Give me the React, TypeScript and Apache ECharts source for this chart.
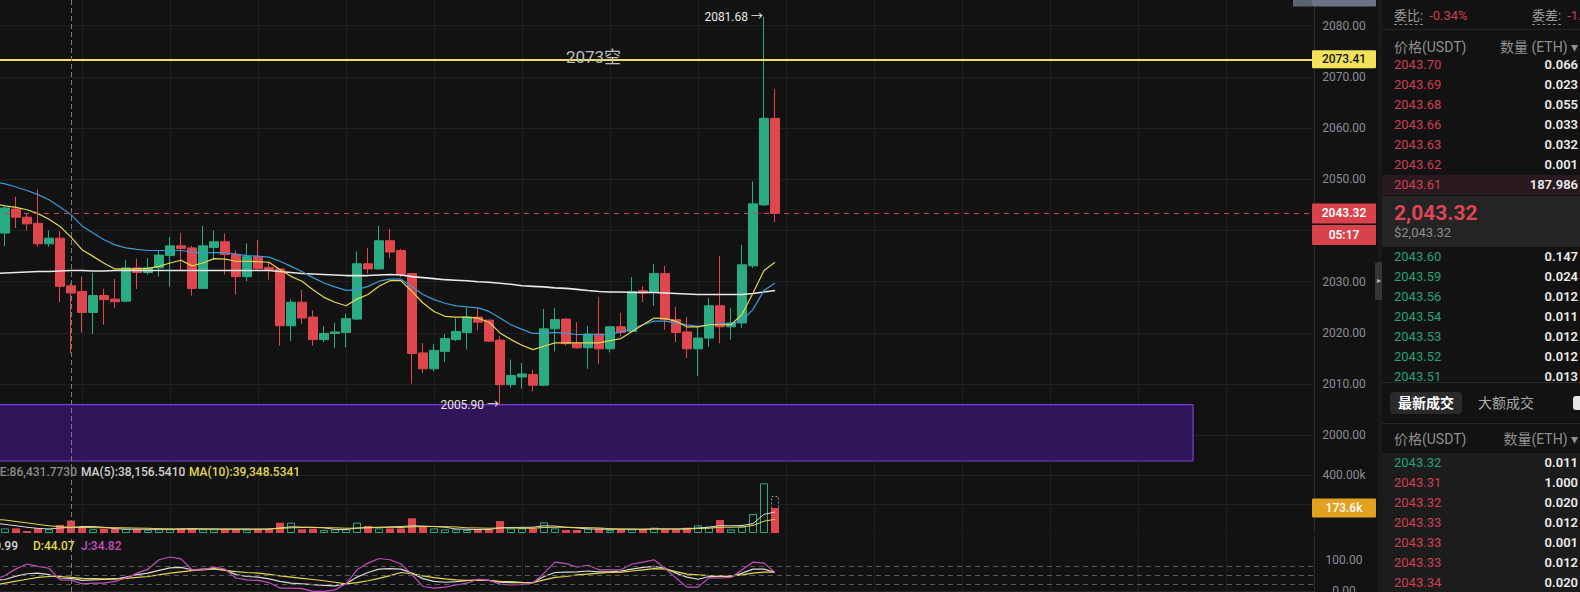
import React, { useEffect, useRef } from "react";
import * as echarts from "echarts";

// ---------------- data ----------------
const SLOT_COUNT = 121; // slot 0 sits just left of the visible area
const slots: string[] = Array.from({ length: SLOT_COUNT }, (_, i) => String(i));

const opens = [
  2039.5, 2044.2, 2042.6, 2041.4, 2037.4, 2038.5, 2029.2, 2028.1, 2024.0, 2027.3,
  2026.6, 2026.2, 2032.7, 2031.8, 2032.7, 2035.1, 2037.0, 2036.6, 2028.7, 2036.7,
  2037.8, 2035.3, 2031.0, 2034.9, 2032.8, 2032.5, 2021.4, 2026.0, 2023.1, 2018.7,
  2019.9, 2020.1, 2022.7, 2033.5, 2032.5, 2038.0, 2036.1, 2031.6, 2016.1, 2013.0,
  2016.4, 2018.7, 2020.1, 2023.1, 2022.5, 2018.6, 2009.9, 2011.4, 2011.9, 2009.8,
  2020.8, 2022.7, 2017.9, 2017.1, 2019.8, 2016.9, 2021.2, 2020.3, 2028.25, 2027.9,
  2031.6, 2022.6, 2020.2, 2016.9, 2019.0, 2025.3, 2021.2, 2021.95, 2033.1, 2045.0,
  2061.9,
];
const closes = [
  2044.4, 2042.6, 2041.3, 2037.4, 2038.5, 2029.1, 2027.8, 2024.0, 2027.3, 2026.5,
  2026.1, 2032.7, 2031.8, 2032.7, 2035.2, 2037.0, 2036.5, 2028.7, 2037.0, 2037.8,
  2035.3, 2031.0, 2034.9, 2032.6, 2032.35, 2021.4, 2026.0, 2022.9, 2018.7, 2019.9,
  2020.2, 2022.8, 2033.5, 2032.5, 2038.0, 2035.8, 2031.4, 2016.0, 2013.0, 2016.6,
  2018.9, 2020.3, 2023.1, 2022.1, 2018.4, 2009.9, 2011.7, 2012.0, 2009.8, 2020.8,
  2022.6, 2017.9, 2017.1, 2019.8, 2016.9, 2021.2, 2020.1, 2028.1, 2027.8, 2031.6,
  2022.6, 2020.1, 2016.9, 2019.0, 2025.3, 2021.2, 2021.95, 2033.3, 2045.2, 2061.9,
  2043.32,
];
const lows = [
  2036.9, 2040.5, 2040.0, 2036.8, 2036.8, 2026.0, 2016.1, 2020.1, 2019.7, 2021.6,
  2024.8, 2026.0, 2028.6, 2031.4, 2031.0, 2029.0, 2032.3, 2027.3, 2028.7, 2034.3,
  2031.4, 2027.5, 2030.1, 2032.3, 2030.4, 2017.5, 2018.4, 2021.8, 2017.5, 2018.2,
  2017.1, 2017.2, 2022.5, 2031.6, 2032.35, 2034.6, 2030.9, 2010.1, 2012.2, 2012.5,
  2014.3, 2018.4, 2016.75, 2020.5, 2018.2, 2005.9, 2009.3, 2009.1, 2008.6, 2009.6,
  2016.4, 2017.5, 2016.9, 2013.0, 2014.0, 2016.2, 2019.3, 2020.3, 2026.0, 2025.3,
  2020.6, 2018.2, 2015.1, 2011.6, 2017.3, 2018.0, 2018.7, 2021.0, 2032.7, 2044.8,
  2041.6,
];
const highs = [
  2044.7, 2046.6, 2043.4, 2048.0, 2040.0, 2039.9, 2029.7, 2031.0, 2031.7, 2028.6,
  2030.5, 2034.3, 2034.5, 2034.6, 2036.2, 2038.7, 2039.5, 2037.0, 2040.9, 2040.0,
  2039.4, 2036.1, 2037.5, 2038.2, 2034.0, 2032.5, 2026.5, 2028.45, 2024.4, 2021.3,
  2022.0, 2023.8, 2035.9, 2036.6, 2040.9, 2040.3, 2036.4, 2031.6, 2018.0, 2017.9,
  2019.8, 2022.9, 2024.9, 2024.9, 2022.6, 2019.35, 2014.8, 2014.15, 2012.85, 2024.7,
  2024.9, 2022.9, 2022.1, 2021.4, 2027.0, 2021.4, 2023.9, 2030.9, 2029.1, 2033.5,
  2033.1, 2025.1, 2023.1, 2021.4, 2026.8, 2035.0, 2024.9, 2037.2, 2049.6, 2081.68,
  2067.6,
];
const volumes = [
  32000, 32000, 14000, 32000, 26000, 56000, 86432, 37000, 26000, 30000,
  30000, 28000, 26000, 23000, 26000, 26000, 32000, 32000, 26000, 26000,
  28000, 28000, 23000, 28000, 28000, 72000, 72000, 26000, 30000, 21000,
  26000, 26000, 72000, 49000, 32000, 32000, 32000, 102000, 44000, 32000,
  25000, 25000, 21000, 25000, 25000, 83000, 32000, 32000, 32000, 74000,
  32000, 21000, 21000, 32000, 32000, 21000, 25000, 25000, 25000, 37000,
  25000, 25000, 37000, 53000, 44000, 90000, 25000, 44000, 132000, 345000,
  173600,
];
// moving averages / indicators, slot 0..71
const ma7 = [
  2045.2, 2044.8, 2044.5, 2044.05, 2043.3, 2042.2, 2040.8, 2038.7, 2036.25, 2034.95, 2033.6,
  2032.5, 2032.5, 2032.5, 2032.6, 2033.0, 2033.65, 2034.2, 2033.1, 2033.65, 2034.5,
  2034.4, 2034.0, 2034.0, 2033.9, 2033.8, 2032.35, 2031.05, 2030.1, 2028.45, 2026.95,
  2026.0, 2025.3, 2026.6, 2027.5, 2029.1, 2030.2, 2030.2, 2028.1, 2025.85, 2024.2,
  2023.25, 2023.1, 2023.1, 2022.9, 2022.1, 2020.0, 2018.7, 2017.6, 2016.75, 2017.4,
  2018.05, 2018.05, 2018.05, 2018.05, 2018.05, 2018.5, 2018.9, 2020.3, 2021.6, 2022.9,
  2022.8, 2022.3, 2021.2, 2021.2, 2021.6, 2021.6, 2021.6, 2023.6, 2027.8, 2032.2, 2033.8,
];
const ma25 = [
  2049.5, 2049.1, 2048.5, 2047.8, 2047.0, 2046.0, 2044.6, 2043.1, 2040.9, 2039.5, 2038.2,
  2037.2, 2036.6, 2036.3, 2036.1, 2036.1, 2036.1, 2036.1, 2035.8, 2035.6, 2035.7,
  2035.7, 2035.4, 2035.1, 2035.0, 2034.8, 2034.0, 2033.0, 2032.0, 2030.8, 2029.75,
  2029.0, 2028.3, 2028.45, 2029.1, 2030.1, 2030.5, 2030.5, 2029.0, 2027.5, 2026.5,
  2025.8, 2025.3, 2025.1, 2024.9, 2024.2, 2022.9, 2021.6, 2020.7, 2019.9, 2019.9,
  2020.1, 2019.9, 2019.7, 2019.7, 2019.7, 2019.7, 2020.2, 2020.8, 2021.6, 2022.3,
  2022.3, 2021.95, 2021.6, 2021.3, 2021.5, 2021.8, 2021.8, 2022.3, 2024.6, 2028.3, 2029.75,
];
const ma99 = [
  2031.6, 2031.7, 2031.8, 2031.9, 2032.0, 2032.0, 2032.1, 2032.2, 2032.2, 2032.1, 2032.1,
  2032.2, 2032.2, 2032.2, 2032.2, 2032.2, 2032.2, 2032.2, 2032.2, 2032.2, 2032.2,
  2032.2, 2032.2, 2032.2, 2032.2, 2032.2, 2032.0, 2031.8, 2031.6, 2031.5, 2031.4,
  2031.3, 2031.2, 2031.2, 2031.2, 2031.3, 2031.4, 2031.3, 2031.0, 2030.8, 2030.6,
  2030.4, 2030.3, 2030.2, 2030.0, 2029.9, 2029.7, 2029.5, 2029.2, 2029.1, 2029.0,
  2028.8, 2028.7, 2028.5, 2028.3, 2028.1, 2028.0, 2028.0, 2027.9, 2027.9, 2027.9,
  2027.8, 2027.7, 2027.6, 2027.5, 2027.5, 2027.5, 2027.5, 2027.5, 2027.7, 2028.0, 2028.3,
];
const volMa5 = [
  70000, 60000, 50000, 40000, 32000, 28000, 35000, 38157, 45000, 45000, 40000,
  30000, 27000, 26000, 26000, 26000, 26000, 28000, 30000, 29000, 28000,
  27000, 27000, 27000, 26000, 27000, 35000, 43000, 41000, 40000, 36000,
  25000, 24000, 34000, 39000, 40000, 42000, 45000, 50000, 48000, 45000,
  40000, 28000, 26000, 24000, 24000, 36000, 38000, 39000, 40000, 50000,
  48000, 40000, 35000, 28000, 27000, 26000, 26000, 27000, 25000, 28000,
  28000, 27000, 30000, 35000, 40000, 52000, 50000, 52000, 65000, 130000, 145000,
];
const volMa10 = [
  95000, 90000, 80000, 70000, 60000, 50000, 44000, 39349, 38000, 37000, 37000,
  37000, 36000, 34000, 33000, 30000, 28000, 27000, 27000, 27000, 27000,
  27000, 27000, 27000, 27000, 28000, 32000, 36000, 38000, 38000, 37000,
  36000, 33000, 34000, 36000, 38000, 40000, 38000, 43000, 45000, 45000,
  44000, 42000, 36000, 35000, 33000, 35000, 35000, 33000, 33000, 38000,
  40000, 40000, 38000, 37000, 35000, 30000, 28000, 27000, 27000, 28000,
  28000, 28000, 28000, 31000, 33000, 40000, 40000, 42000, 52000, 82000, 95000,
];
const kLine = [
  34, 37, 48, 56, 58, 53, 42, 40.99, 34, 36, 37,
  38, 45, 53, 58, 67, 75, 77, 69, 71, 73,
  69, 53, 47, 45, 39, 31, 25, 23, 20, 18,
  16, 23, 45, 60, 71, 73, 71, 58, 40, 31,
  28, 30, 33, 36, 34, 28, 27, 27, 27, 47,
  60, 61, 62, 65, 62, 62, 65, 71, 77, 80,
  74, 58, 45, 38, 47, 47, 47, 58, 71, 71, 61,
];
const dLine = [
  18, 25, 32, 38, 44, 47, 47, 44.07, 41, 40, 39,
  40, 41, 44, 47, 52, 58, 62, 66, 69, 72,
  67, 63, 60, 58, 54, 49, 45, 41, 37, 33,
  28, 23, 27, 33, 41, 50, 60, 56, 49, 43,
  39, 36, 34, 34, 34, 31, 30, 28, 27, 36,
  44, 47, 52, 55, 58, 60, 61, 65, 69, 73,
  71, 63, 55, 52, 50, 49, 49, 52, 58, 61, 61,
];
const jLine = [
  35, 50, 72, 88, 80, 74, 36, 34.82, 23, 25, 25,
  31, 42, 58, 71, 102, 111, 105, 69, 69, 78,
  71, 42, 36, 34, 27, 9, 9, 7, -2, -2,
  3, 23, 69, 91, 106, 102, 88, 53, 14, 9,
  12, 19, 25, 38, 34, 22, 19, 21, 25, 58,
  94, 89, 78, 84, 69, 69, 69, 88, 94, 102,
  74, 42, 12, 12, 43, 42, 44, 69, 94, 91, 61,
];

// grid lines at every tick; labels only where the reference shows them (others are hidden behind tags)
const priceTicks = [2000, 2010, 2020, 2030, 2040, 2050, 2060, 2070, 2080];
const priceLabels = [2000, 2010, 2020, 2030, 2050, 2060, 2070, 2080];
const volumeTicks = [200000, 400000];
const volumeLabels = [400000];
const kdjTicks = [0, 100];
const kdjLevels = [20, 50, 80];

const PRICE_MIN = 1995;
const PRICE_MAX = 2085;
const VOLUME_MAX = 500000;
const KDJ_MIN = -4;
const KDJ_MAX = 180;

const RESISTANCE = 2073.41;
const RESISTANCE_NOTE = "2073空";
const ZONE_TOP = 2006.0;
const ZONE_BOTTOM = 1995;
const ZONE_END_SLOT = 109;
const LAST_PRICE = 2043.32;
const COUNTDOWN = "05:17";
const LAST_VOLUME = 173600;
const PROJECTED_VOLUME = 257000;
const CROSS_SLOT = 7;
const HIGH_SLOT = 70;
const LOW_SLOT = 46;
const VOL_TEXT = "VOLUME:86,431.7730";
const VOL_MA5_TEXT = "MA(5):38,156.5410";
const VOL_MA10_TEXT = "MA(10):39,348.5341";
const K_TEXT = "K:40.99";
const D_TEXT = "D:44.07";
const J_TEXT = "J:34.82";

const asks = [
  ["2043.70", "0.066"], ["2043.69", "0.023"], ["2043.68", "0.055"], ["2043.66", "0.033"],
  ["2043.63", "0.032"], ["2043.62", "0.001"], ["2043.61", "187.986"],
];
const bids = [
  ["2043.60", "0.147"], ["2043.59", "0.024"], ["2043.56", "0.012"], ["2043.54", "0.011"],
  ["2043.53", "0.012"], ["2043.52", "0.012"], ["2043.51", "0.013"],
];
const trades = [
  ["2043.32", "0.011", "buy"], ["2043.31", "1.000", "sell"], ["2043.32", "0.020", "sell"],
  ["2043.33", "0.012", "sell"], ["2043.33", "0.001", "sell"], ["2043.33", "0.012", "sell"],
  ["2043.34", "0.020", "sell"],
];

// ---------------- styles ----------------
const FONT = "Roboto, 'Noto Sans CJK SC', sans-serif";
const BG = "#121212";
const GRID_COLOR = "#1f1f1f";
const UP = "#2aab83";
const DOWN = "#e0464e";
const YELLOW = "#e3d84f";
const BLUE = "#3a9bd5";
const WHITE = "#e8e8e8";
const PINK = "#c64dbd";
const AXIS_TEXT = "#8a8e96";
const BOOK_RED = "#cf3d55";
const BOOK_GREEN = "#23a372";

function buildOption(): any {
  const candleData: any[] = [["-", "-", "-", "-"]].concat(
    opens.map((o, i) => [o, closes[i], lows[i], highs[i]]) as any
  );
  const volData: any[] = ["-"].concat(
    volumes.map((v, i) =>
      closes[i] >= opens[i]
        ? { value: v, itemStyle: { color: "rgba(0,0,0,0)", borderColor: UP, borderWidth: 1 } }
        : { value: v, itemStyle: { color: DOWN } }
    ) as any
  );
  const projData: any[] = volData.map((_, i) => (i === volData.length - 1 ? PROJECTED_VOLUME : "-"));

  const xAxis = (gi: number, extra: any = {}) => ({
    type: "category",
    gridIndex: gi,
    data: slots,
    boundaryGap: false,
    axisLine: { show: false },
    axisTick: { show: false },
    axisLabel: { show: false },
    splitLine: { show: true, interval: 7, lineStyle: { color: GRID_COLOR, width: 1 } },
    ...extra,
  });
  const axisLabel = (values: number[], fmt: (v: number) => string) => ({
    customValues: values,
    formatter: fmt,
    color: AXIS_TEXT,
    fontSize: 12,
    fontFamily: FONT,
    margin: 30,
    align: "center",
  });
  const crossLine = { xAxis: CROSS_SLOT, lineStyle: { color: "#7a7a7a", type: [5, 3], width: 1 } };
  const line = (name: string, data: number[], color: string, xi: number, width = 1.2, extra: any = {}) => ({
    name,
    type: "line",
    xAxisIndex: xi,
    yAxisIndex: xi,
    data,
    showSymbol: false,
    symbol: "none",
    silent: true,
    lineStyle: { color, width },
    z: 3,
    ...extra,
  });
  const gridBase = { outerBoundsMode: "none", containLabel: false, left: -6, width: 1320 };

  return {
    animation: false,
    backgroundColor: BG,
    grid: [
      { ...gridBase, top: 0, height: 461 },
      { ...gridBase, top: 461, height: 72 },
      { ...gridBase, top: 536, height: 56 },
    ],
    xAxis: [
      xAxis(0),
      xAxis(1),
      xAxis(2, { position: "top", axisLine: { show: true, lineStyle: { color: "#242424" } } }),
    ],
    yAxis: [
      {
        type: "value", gridIndex: 0, position: "right", min: PRICE_MIN, max: PRICE_MAX,
        axisLine: { show: true, lineStyle: { color: "#2a2a2a" } },
        axisTick: { show: false, customValues: priceTicks },
        axisLabel: axisLabel(priceLabels, (v) => v.toFixed(2)),
        splitLine: { show: true, lineStyle: { color: GRID_COLOR } },
      },
      {
        type: "value", gridIndex: 1, position: "right", min: 0, max: VOLUME_MAX,
        axisLine: { show: true, lineStyle: { color: "#2a2a2a" } },
        axisTick: { show: false, customValues: volumeTicks },
        axisLabel: axisLabel(volumeLabels, (v) => (v / 1000).toFixed(2) + "k"),
        splitLine: { show: true, lineStyle: { color: GRID_COLOR } },
      },
      {
        type: "value", gridIndex: 2, position: "right", min: KDJ_MIN, max: KDJ_MAX,
        axisLine: { show: true, lineStyle: { color: "#2a2a2a" } },
        axisTick: { show: false, customValues: kdjTicks },
        axisLabel: axisLabel(kdjTicks, (v) => v.toFixed(2)),
        splitLine: { show: false },
      },
    ],
    series: [
      {
        name: "kline",
        type: "candlestick",
        xAxisIndex: 0,
        yAxisIndex: 0,
        data: candleData,
        barWidth: 9,
        silent: true,
        itemStyle: { color: UP, color0: DOWN, borderColor: UP, borderColor0: DOWN, borderWidth: 1 },
        markArea: {
          silent: true,
          itemStyle: { color: "#2f165a", borderColor: "#7b3dd2", borderWidth: 1.2 },
          data: [[{ xAxis: 0, yAxis: ZONE_TOP }, { xAxis: ZONE_END_SLOT, yAxis: ZONE_BOTTOM }]],
        },
        markLine: {
          silent: true,
          symbol: ["none", "none"],
          label: { show: false },
          data: [
            { yAxis: LAST_PRICE, lineStyle: { color: "#c8474f", type: [5, 5], width: 1 } },
            { yAxis: RESISTANCE, lineStyle: { color: "#ede05a", type: "solid", width: 2 } },
            crossLine,
          ],
        },
      },
      line("MA99", ma99, WHITE, 0, 1.6),
      line("MA25", ma25, BLUE, 0, 1.2),
      line("MA7", ma7, YELLOW, 0, 1.2),
      {
        name: "volProjected",
        type: "bar",
        xAxisIndex: 1,
        yAxisIndex: 1,
        data: projData,
        barWidth: 8,
        barGap: "-100%",
        silent: true,
        itemStyle: { color: "rgba(0,0,0,0)", borderColor: "#8a8a8a", borderWidth: 1, borderType: [2, 2] },
      },
      {
        name: "volume",
        type: "bar",
        xAxisIndex: 1,
        yAxisIndex: 1,
        data: volData,
        barWidth: 8,
        barGap: "-100%",
        silent: true,
        markLine: { silent: true, symbol: ["none", "none"], label: { show: false }, data: [crossLine] },
      },
      line("VMA5", volMa5, "#d8d8d8", 1, 1),
      line("VMA10", volMa10, YELLOW, 1, 1),
      line("K", kLine, "#d8d8d8", 2, 1.2, {
        markLine: {
          silent: true,
          symbol: ["none", "none"],
          label: { show: false },
          data: kdjLevels
            .map((v) => ({ yAxis: v, lineStyle: { color: "#5a5a5a", type: [5, 4], width: 1 } }))
            .concat([crossLine as any]),
        },
      }),
      line("D", dLine, YELLOW, 2, 1.2),
      line("J", jLine, PINK, 2, 1.2),
    ],
  };
}

function buildOverlay(chart: any) {
  const px = (g: number, slot: number, v: number) => chart.convertToPixel({ gridIndex: g }, [slot, v]) as number[];
  const axisX = px(0, SLOT_COUNT - 1, LAST_PRICE)[0];
  const bx = axisX - 2;
  const bw = 64;
  const cx = bx + bw / 2;
  const yRes = px(0, 0, RESISTANCE)[1];
  const yLast = px(0, 0, LAST_PRICE)[1];
  const yVol = px(1, 0, LAST_VOLUME)[1];
  const volTop = px(1, 0, VOLUME_MAX)[1];
  const kdjTop = px(2, 0, KDJ_MAX)[1];
  const hi = px(0, HIGH_SLOT, highs[HIGH_SLOT - 1]);
  const lo = px(0, LOW_SLOT, lows[LOW_SLOT - 1]);
  const noteX = (px(0, 54, RESISTANCE)[0] + px(0, 55, RESISTANCE)[0]) / 2;

  const txt = (x: number, y: number, text: string, fill: string, o: any = {}) => {
    const align = o.align || "left";
    return {
      type: "text",
      x,
      y,
      silent: true,
      z: 60,
      style: {
        text,
        fill,
        fontSize: o.size || 12,
        fontWeight: o.weight || 400,
        fontFamily: FONT,
        align,
        textAlign: align,
        verticalAlign: "middle",
        textVerticalAlign: "middle",
      },
    };
  };
  const box = (y: number, h: number, fill: string, x = bx, w = bw) => ({
    type: "rect",
    silent: true,
    z: 55,
    shape: { x, y, width: w, height: h, r: 1 },
    style: { fill },
  });

  return [
    // axis tags
    box(yRes - 9, 18, "#f2e35b"),
    txt(cx, yRes, RESISTANCE.toFixed(2), "#141414", { align: "center", size: 12, weight: 500 }),
    box(yLast - 10, 20, "#d9424b"),
    txt(cx, yLast, LAST_PRICE.toFixed(2), "#ffffff", { align: "center", size: 12, weight: 600 }),
    box(yLast + 11.5, 20, "#d9424b"),
    txt(cx, yLast + 21.5, COUNTDOWN, "#ffffff", { align: "center", size: 12, weight: 600 }),
    box(yVol - 9.5, 19, "#e2a11f"),
    txt(cx, yVol, (LAST_VOLUME / 1000).toFixed(1) + "k", "#ffffff", { align: "center", size: 12, weight: 500 }),
    // crosshair tag at the top edge (cut off in the reference)
    box(-14, 20.5, "#5b6271", bx - 19, 19),
    box(-14, 20.5, "#6b7384"),
    // annotations
    txt(noteX, yRes - 2, RESISTANCE_NOTE, "#bdbdbd", { align: "center", size: 17 }),
    txt(hi[0] - 1, hi[1], highs[HIGH_SLOT - 1].toFixed(2) + " →", "#e8e8e8", { align: "right" }),
    txt(lo[0] - 1, lo[1], lows[LOW_SLOT - 1].toFixed(2) + " →", "#e8e8e8", { align: "right" }),
    // volume legend
    txt(77, volTop + 11, VOL_TEXT, "#8c8c8c", { align: "right", weight: 500 }),
    txt(81, volTop + 11, VOL_MA5_TEXT, "#d2d2d2", { weight: 500 }),
    txt(189, volTop + 11, VOL_MA10_TEXT, YELLOW, { weight: 500 }),
    // kdj legend
    txt(18, kdjTop + 10, K_TEXT, "#d2d2d2", { align: "right", weight: 500 }),
    txt(33, kdjTop + 10, D_TEXT, YELLOW, { weight: 500 }),
    txt(81, kdjTop + 10, J_TEXT, PINK, { weight: 500 }),
  ];
}

// ---------------- order book panel ----------------
const rowStyle = (top: number, bg?: string): React.CSSProperties => ({
  position: "absolute",
  left: 0,
  top,
  width: 198,
  height: 20,
  lineHeight: "20px",
  background: bg || "transparent",
});
const priceCell = (color: string): React.CSSProperties => ({
  position: "absolute",
  left: 12,
  top: 0,
  fontSize: 13,
  color,
});
const qtyCell: React.CSSProperties = {
  position: "absolute",
  right: 2,
  top: 0,
  fontSize: 13,
  color: "#ececec",
  fontWeight: 600,
};
const headCell = (side: "left" | "right"): React.CSSProperties => ({
  position: "absolute",
  [side]: side === "left" ? 12 : 2,
  top: 0,
  fontSize: 14,
  color: "#8f8f8f",
} as any);

function OrderBook() {
  return (
    <div
      style={{
        position: "absolute",
        left: 1382,
        top: 0,
        width: 198,
        height: 592,
        background: BG,
        overflow: "hidden",
        fontFamily: FONT,
        whiteSpace: "nowrap",
      }}
    >
      <div style={{ ...rowStyle(6), fontSize: 13 }}>
        <span style={{ position: "absolute", left: 12, color: "#9b9b9b" }}>
          <span style={{ borderBottom: "1px dashed #8a8a8a", paddingBottom: 1 }}>委比:</span>
          <span style={{ color: BOOK_RED, marginLeft: 6 }}>-0.34%</span>
        </span>
        <span style={{ position: "absolute", left: 150, color: "#9b9b9b" }}>
          <span style={{ borderBottom: "1px dashed #8a8a8a", paddingBottom: 1 }}>委差:</span>
          <span style={{ color: BOOK_RED, marginLeft: 6 }}>-1.1</span>
        </span>
      </div>
      <div style={{ position: "absolute", left: 0, top: 29, width: 198, height: 1, background: "#242424" }} />
      <div style={rowStyle(37)}>
        <span style={headCell("left")}>价格(USDT)</span>
        <span style={headCell("right")}>数量 (ETH) ▾</span>
      </div>
      {asks.map((a, i) => (
        <div key={"a" + i} style={rowStyle(55 + i * 20, i === asks.length - 1 ? "#2a1a1f" : undefined)}>
          <span style={priceCell(BOOK_RED)}>{a[0]}</span>
          <span style={qtyCell}>{a[1]}</span>
        </div>
      ))}
      <div style={{ position: "absolute", left: 0, top: 196, width: 198, height: 51, background: "#242424" }}>
        <div style={{ position: "absolute", left: 12, top: 5, lineHeight: "24px", fontSize: 21, fontWeight: 700, color: "#de4556" }}>
          2,043.32
        </div>
        <div style={{ position: "absolute", left: 12, top: 29, lineHeight: "16px", fontSize: 13, color: "#8a8a8a" }}>
          $2,043.32
        </div>
      </div>
      {bids.map((b, i) => (
        <div key={"b" + i} style={rowStyle(247 + i * 20)}>
          <span style={priceCell(BOOK_GREEN)}>{b[0]}</span>
          <span style={qtyCell}>{b[1]}</span>
        </div>
      ))}
      <div
        style={{
          position: "absolute",
          left: 0,
          top: 382,
          width: 198,
          height: 210,
          background: BG,
          borderTop: "1px solid #2a2a2a",
        }}
      >
        <div
          style={{
            position: "absolute", left: 8, top: 9, width: 72, height: 22, lineHeight: "22px",
            background: "#2a2a2a", borderRadius: 4, textAlign: "center", color: "#ffffff",
            fontSize: 14, fontWeight: 700,
          }}
        >
          最新成交
        </div>
        <div style={{ position: "absolute", left: 96, top: 9, lineHeight: "22px", color: "#a9a9a9", fontSize: 14 }}>
          大额成交
        </div>
        <div style={{ position: "absolute", left: 191, top: 13, width: 14, height: 14, background: "#e6e6e6", borderRadius: 3 }} />
        <div style={{ position: "absolute", left: 0, top: 40, width: 198, height: 1, background: "#262626" }} />
        <div style={rowStyle(46)}>
          <span style={headCell("left")}>价格(USDT)</span>
          <span style={headCell("right")}>数量(ETH) ▾</span>
        </div>
        <div style={{ position: "absolute", left: 0, top: 70, width: 198, height: 140, background: "#1c1c1c" }}>
          {trades.map((t, i) => (
            <div key={"t" + i} style={rowStyle(i * 20)}>
              <span style={priceCell(t[2] === "buy" ? BOOK_GREEN : BOOK_RED)}>{t[0]}</span>
              <span style={qtyCell}>{t[1]}</span>
            </div>
          ))}
        </div>
      </div>
    </div>
  );
}

export default function App() {
  const ref = useRef<HTMLDivElement>(null);
  useEffect(() => {
    if (!ref.current) return;
    const chart = echarts.init(ref.current, undefined, { renderer: "svg" });
    chart.setOption(buildOption());
    chart.setOption({ graphic: { elements: buildOverlay(chart) } });
    return () => chart.dispose();
  }, []);
  return (
    <div
      style={{
        position: "fixed",
        left: 0,
        top: 0,
        width: 1580,
        height: 592,
        background: BG,
        overflow: "hidden",
        fontFamily: FONT,
      }}
    >
      <div ref={ref} style={{ position: "absolute", left: 0, top: 0, width: 1378, height: 592 }} />
      <div style={{ position: "absolute", left: 1378, top: 0, width: 4, height: 592, background: "#191919" }} />
      <div
        style={{
          position: "absolute", left: 1375, top: 262, width: 8, height: 38, background: "#353535",
          borderRadius: 2, color: "#bbbbbb", fontSize: 8, lineHeight: "38px", textAlign: "center",
        }}
      >
        ▸
      </div>
      <OrderBook />
    </div>
  );
}
